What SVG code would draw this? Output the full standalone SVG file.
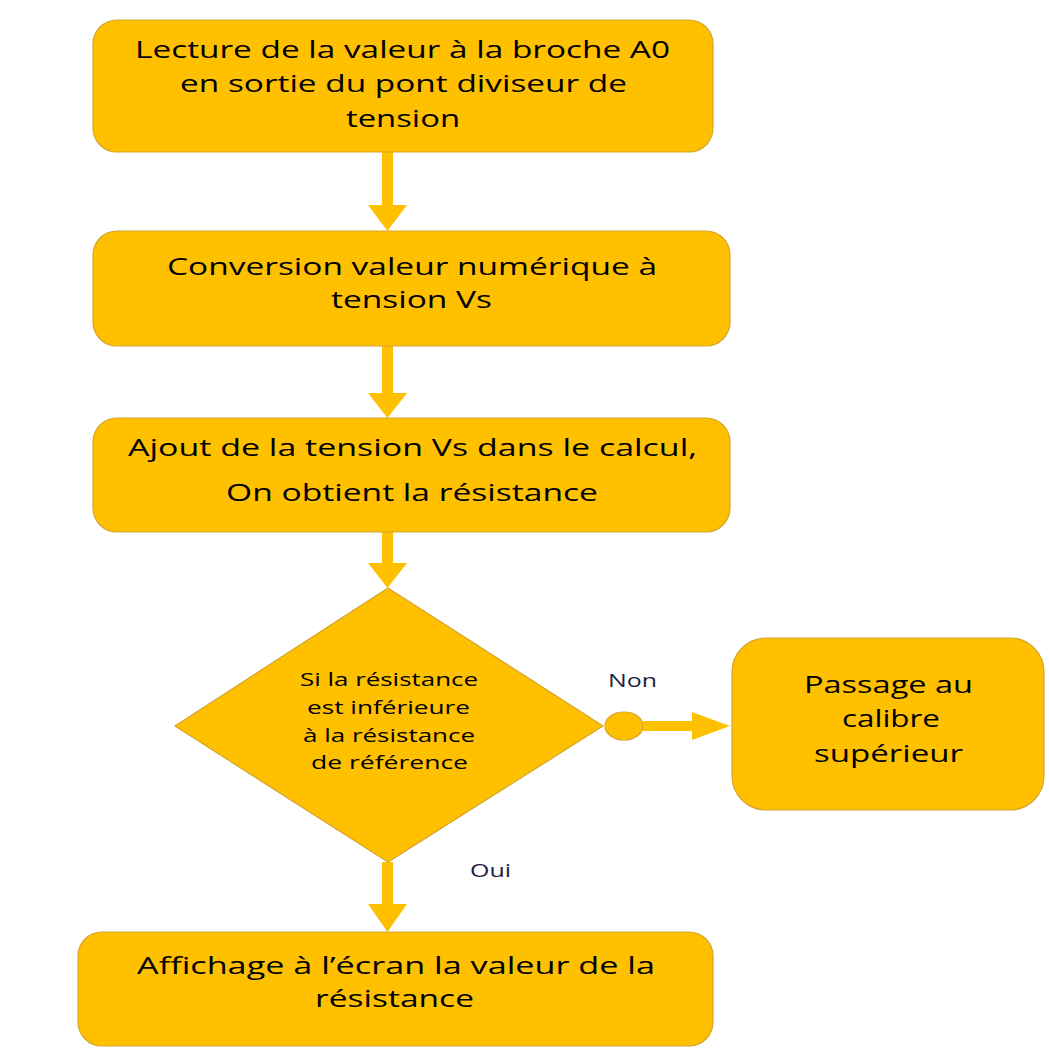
<svg xmlns="http://www.w3.org/2000/svg" width="1049" height="1057" viewBox="0 0 1049 1057">
<style>
.box{fill:#FFC000;stroke:#D6A52A;stroke-width:1.2}
.t{font-family:"Open Sans","Liberation Sans",sans-serif;font-size:24px;fill:#000;text-anchor:middle}
.s{font-family:"Open Sans","Liberation Sans",sans-serif;font-size:19px;fill:#000;text-anchor:middle}
.lbl{font-family:"Open Sans","Liberation Sans",sans-serif;font-size:18px;fill:#1c2340}
.arr{fill:#FFC000;stroke:none}
</style>
<rect width="1049" height="1057" fill="#fff"/>
<g id="connectors">
<polygon class="arr" points="382,152 393,152 393,205 407,205 387.5,231 368,205 382,205"/>
<polygon class="arr" points="382,346 393,346 393,393 407,393 387.5,418 368,393 382,393"/>
<polygon class="arr" points="382,532 393,532 393,563 407,563 387.5,588 368,563 382,563"/>
<polygon class="arr" points="382,862 393,862 393,904 407,904 387.5,932 368,904 382,904"/>
<ellipse cx="624" cy="726" rx="19" ry="14" fill="#FFC000" stroke="#D6A52A" stroke-width="1.2"/>
<polygon class="arr" points="643,721 692,721 692,712 730,726 692,740 692,731 643,731"/>
</g>
<g id="n1">
<rect class="box" x="93" y="20" width="620" height="132" rx="24"/>
<text class="t" x="402.5" y="58" textLength="535" lengthAdjust="spacingAndGlyphs">Lecture de la valeur à la broche A0</text>
<text class="t" x="403.5" y="92" textLength="447" lengthAdjust="spacingAndGlyphs">en sortie du pont diviseur de</text>
<text class="t" x="403" y="127" textLength="114" lengthAdjust="spacingAndGlyphs">tension</text>
</g>
<g id="n2">
<rect class="box" x="93" y="231" width="637" height="115" rx="24"/>
<text class="t" x="412" y="275" textLength="490" lengthAdjust="spacingAndGlyphs">Conversion valeur numérique à</text>
<text class="t" x="411.5" y="308" textLength="161" lengthAdjust="spacingAndGlyphs">tension Vs</text>
</g>
<g id="n3">
<rect class="box" x="93" y="418" width="637" height="114" rx="24"/>
<text class="t" x="412.5" y="456" textLength="569" lengthAdjust="spacingAndGlyphs">Ajout de la tension Vs dans le calcul,</text>
<text class="t" x="412" y="501" textLength="372" lengthAdjust="spacingAndGlyphs">On obtient la résistance</text>
</g>
<g id="n4">
<polygon class="box" points="388,588 603,726 388,862 175,726"/>
<text class="s" x="389" y="686" textLength="178" lengthAdjust="spacingAndGlyphs">Si la résistance</text>
<text class="s" x="388.5" y="714" textLength="163" lengthAdjust="spacingAndGlyphs">est inférieure</text>
<text class="s" x="389" y="742" textLength="172" lengthAdjust="spacingAndGlyphs">à la résistance</text>
<text class="s" x="389.5" y="769" textLength="157" lengthAdjust="spacingAndGlyphs">de référence</text>
</g>
<g id="n5">
<rect class="box" x="732" y="638" width="312" height="172" rx="34"/>
<text class="t" x="888.5" y="693" textLength="169" lengthAdjust="spacingAndGlyphs">Passage au</text>
<text class="t" x="891" y="727" textLength="98" lengthAdjust="spacingAndGlyphs">calibre</text>
<text class="t" x="888.5" y="762" textLength="149" lengthAdjust="spacingAndGlyphs">supérieur</text>
</g>
<g id="n6">
<rect class="box" x="78" y="932" width="635" height="114" rx="24"/>
<text class="t" x="396" y="974" textLength="518" lengthAdjust="spacingAndGlyphs">Affichage à l’écran la valeur de la</text>
<text class="t" x="394.5" y="1007" textLength="159" lengthAdjust="spacingAndGlyphs">résistance</text>
</g>
<text class="lbl" x="608" y="687" textLength="49" lengthAdjust="spacingAndGlyphs">Non</text>
<text class="lbl" x="470" y="877" textLength="41" lengthAdjust="spacingAndGlyphs">Oui</text>
</svg>
